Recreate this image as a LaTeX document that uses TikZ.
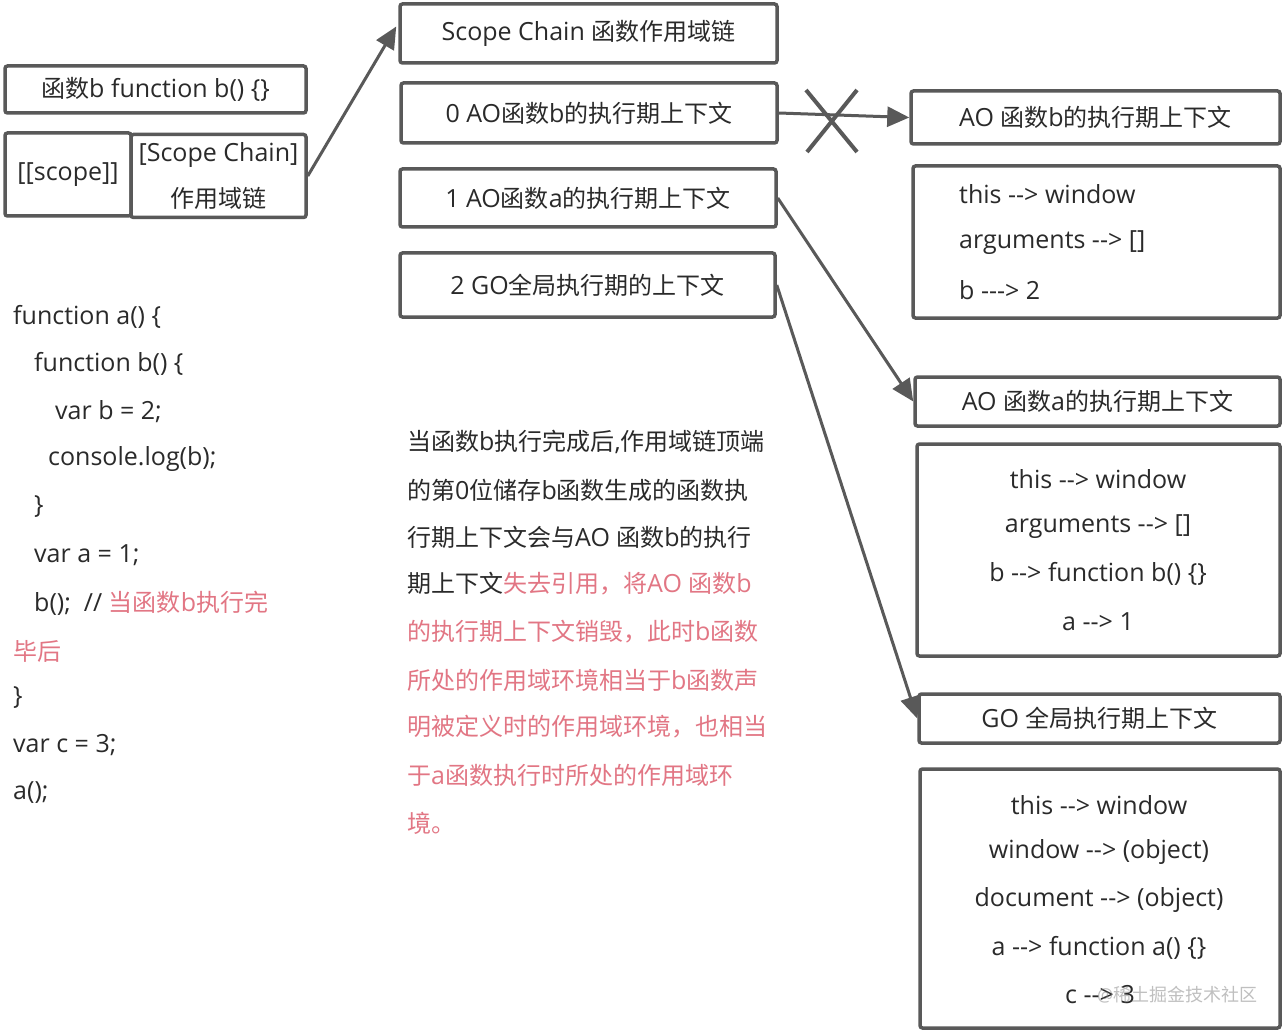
\documentclass[tikz,border=0pt]{standalone}
\usepackage{fontspec}
\setmainfont{Open Sans}[Ligatures=TeXOff]
\newfontfamily\zhfont{Noto Sans CJK SC}[Ligatures=TeXOff]
\newcommand\zh[1]{{\zhfont\fontsize{24}{28}\selectfont #1}}
\usetikzlibrary{arrows.meta,calc}
\definecolor{ln}{HTML}{595959}
\definecolor{tx}{HTML}{2A2A2A}
\definecolor{pk}{RGB}{226,118,132}
\begin{document}
\begin{tikzpicture}[x=1pt,y=-1pt,
 box/.style={draw=ln,line width=3.5pt,rounded corners=2.5pt,inner sep=0pt,text=tx,font=\fontsize{25}{28}\selectfont},
 arr/.style={draw=ln,line width=3pt,-{Triangle[length=22pt,width=20pt]}},
 txt/.style={text=tx,font=\fontsize{25}{28}\selectfont,inner sep=0pt,anchor=west},
 ctx/.style={text=tx,font=\fontsize{25}{28}\selectfont,inner sep=0pt,anchor=center},
]
\useasboundingbox[fill=white] (0,0) rectangle (1284,1032);
% left boxes
\node[box,minimum width=301pt,minimum height=47pt] (fb) at (155.5,89.5) {\zh{函数}b function b() \{\}};
\node[box,minimum width=126pt,minimum height=83pt] (scl) at (68,174.5) {[[scope]]};
\node[box,minimum width=175pt,minimum height=83pt,align=center,font=\fontsize{25}{46}\selectfont] (scr) at (218.5,176) {[Scope Chain]\\\zh{作用域链}};
% scope chain column
\node[box,minimum width=377pt,minimum height=59pt] (chain) at (588.5,33.5) {Scope Chain \zh{函数作用域链}};
\node[box,minimum width=376pt,minimum height=60pt] (ao0) at (589,113) {0 AO\zh{函数}b\zh{的执行期上下文}};
\node[box,minimum width=376pt,minimum height=58pt] (ao1) at (588,198) {1 AO\zh{函数}a\zh{的执行期上下文}};
\node[box,minimum width=375pt,minimum height=64pt] (go2) at (587.5,285) {2 GO\zh{全局执行期的上下文}};
% right column
\node[box,minimum width=369pt,minimum height=53pt] (aob) at (1095.5,117.5) {AO \zh{函数}b\zh{的执行期上下文}};
\node[box,minimum width=367pt,minimum height=152pt] (aobc) at (1096.5,242) {};
\node[box,minimum width=365pt,minimum height=49pt] (aoa) at (1097.5,401.5) {AO \zh{函数}a\zh{的执行期上下文}};
\node[box,minimum width=363pt,minimum height=212pt] (aoac) at (1098.5,550) {};
\node[box,minimum width=361pt,minimum height=49pt] (goh) at (1099.5,718.5) {GO \zh{全局执行期上下文}};
\node[box,minimum width=360pt,minimum height=259pt] (goc) at (1100,898.5) {};
% AO b content
\node[txt] (b1) at (959,194) {this --> window};
\node[txt] (b2) at (959,243) {arguments --> []};
\node[txt] (b3) at (959,290) {b ---> 2};
% AO a content
\node[ctx] (a1) at (1098,479) {this --> window};
\node[ctx] (a2) at (1098,527) {arguments --> []};
\node[ctx] (a3) at (1098,574) {b --> function b() \{\}};
\node[ctx] (a4) at (1098,622) {a --> 1};
% GO content
\node[ctx] (g1) at (1099,805) {this --> window};
\node[ctx] (g2) at (1099,852) {window --> (object)};
\node[ctx] (g3) at (1099,900) {document --> (object)};
\node[ctx] (g4) at (1099,948) {a --> function a() \{\}};
\node[ctx] (g5) at (1100,995) {c --> 3};
\node[text=gray,opacity=0.5,font=\fontsize{18}{22}\selectfont,inner sep=0pt,anchor=west] (wm) at (1097,995) {@{\zhfont 稀土掘金技术社区}};
% arrows
\coordinate (chainin) at ($(chain.west)+(-2,-7)$);
\draw[arr] (scr.east) -- (chainin);
\draw[arr] (ao0.east) -- (aob.west);
\draw[arr] (ao1.east) -- (aoa.west);
\draw[arr] (go2.east) -- (goh.west);
% cross
\draw[ln,line width=4pt] (806,90) -- (857,152);
\draw[ln,line width=4pt] (857,90) -- (807,152);
% code
\node[txt] (c1) at (13,317) {function a() \{};
\node[txt] (c2) at (34,364) {function b() \{};
\node[txt] (c3) at (55,412) {var b = 2;};
\node[txt] (c4) at (48,459) {console.log(b);};
\node[txt] (c5) at (34,507) {\}};
\node[txt] (c6) at (34,555) {var a = 1;};
\node[txt] (c7) at (34,603) {b();\ \ // \textcolor{pk}{\zh{当函数}b\zh{执行完}}};
\node[txt,text=pk] (c8) at (13,651) {\zh{毕后}};
\node[txt] (c9) at (13,698) {\}};
\node[txt] (c10) at (13,745) {var c = 3;};
\node[txt] (c11) at (13,793) {a();};
% paragraph
\node[txt] (p1) at (407,442) {\zh{当函数}b\zh{执行完成后},\zh{作用域链顶端}};
\node[txt] (p2) at (407,490) {\zh{的第}0\zh{位储存}b\zh{函数生成的函数执}};
\node[txt] (p3) at (407,537) {\zh{行期上下文会与}AO \zh{函数}b\zh{的执行}};
\node[txt] (p4) at (407,584) {\zh{期上下文}\textcolor{pk}{\zh{失去引用，将}AO \zh{函数}b}};
\node[txt,text=pk] (p5) at (407,632) {\zh{的执行期上下文销毁，此时}b\zh{函数}};
\node[txt,text=pk] (p6) at (407,680) {\zh{所处的作用域环境相当于}b\zh{函数声}};
\node[txt,text=pk] (p7) at (407,727) {\zh{明被定义时的作用域环境，也相当}};
\node[txt,text=pk] (p8) at (407,775) {\zh{于}a\zh{函数执行时所处的作用域环}};
\node[txt,text=pk] (p9) at (407,823) {\zh{境。}};
\end{tikzpicture}
\end{document}
